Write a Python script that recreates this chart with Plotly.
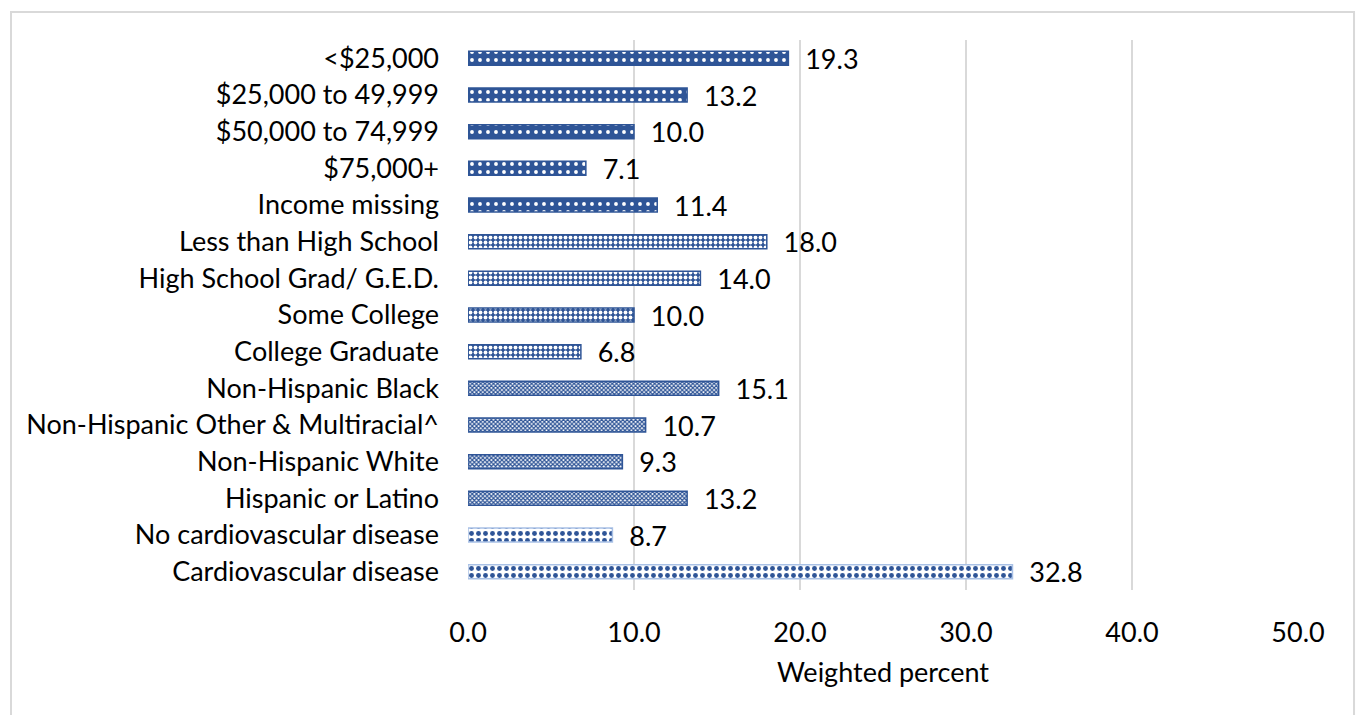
import plotly.graph_objects as go

categories = [
    "<$25,000", "$25,000 to 49,999", "$50,000 to 74,999", "$75,000+", "Income missing",
    "Less than High School", "High School Grad/ G.E.D.", "Some College", "College Graduate",
    "Non-Hispanic Black", "Non-Hispanic Other & Multiracial^", "Non-Hispanic White",
    "Hispanic or Latino",
    "No cardiovascular disease", "Cardiovascular disease",
]
values = [19.3, 13.2, 10.0, 7.1, 11.4,
          18.0, 14.0, 10.0, 6.8,
          15.1, 10.7, 9.3, 13.2,
          8.7, 32.8]
groups = ["income"] * 5 + ["education"] * 4 + ["race"] * 4 + ["cvd"] * 2

BLUE = "#2f5597"
LIGHT = "#a9c1e6"
style = {
    "income":    dict(shape=".", fg="white", bg=BLUE, size=8, sol=0.18, line=BLUE),
    "education": dict(shape=".", fg="white", bg=BLUE, size=5, sol=0.45, line=BLUE),
    "race":      dict(shape="x", fg=BLUE, bg="white", size=3, sol=0.65, line=BLUE),
    "cvd":       dict(shape=".", fg=BLUE, bg="white", size=7, sol=0.38, line=LIGHT),
}

fig = go.Figure()
for g in ["income", "education", "race", "cvd"]:
    idx = [i for i, gg in enumerate(groups) if gg == g]
    s = style[g]
    fig.add_trace(go.Bar(
        x=[values[i] for i in idx], y=[categories[i] for i in idx], orientation="h",
        marker=dict(
            color=s["bg"],
            line=dict(color=s["line"], width=1.5),
            pattern=dict(shape=s["shape"], fgcolor=s["fg"], bgcolor=s["bg"],
                         size=s["size"], solidity=s["sol"], fillmode="replace"),
        ),
        text=[f"  {values[i]:.1f}" for i in idx], textposition="outside",
        constraintext="none", textfont=dict(size=27, color="black"),
        cliponaxis=False,
    ))

fig.update_layout(
    width=1358, height=715,
    margin=dict(l=468, r=60, t=40, b=125),
    paper_bgcolor="white", plot_bgcolor="white",
    font=dict(family="Lato, Carlito, sans-serif", size=27, color="black"),
    barmode="overlay", bargap=0.62, showlegend=False,
    xaxis=dict(range=[0, 50], dtick=10, tickformat=".1f", showgrid=True,
               gridcolor="#d9d9d9", gridwidth=2, zeroline=False,
               showline=False, ticks="", ticklabelstandoff=24,
               tickfont=dict(size=27),
               title=dict(text="Weighted percent", standoff=16, font=dict(size=27))),
    yaxis=dict(categoryorder="array", categoryarray=categories, autorange="reversed",
               showgrid=False, showline=False, ticks="", ticklabelstandoff=28,
               tickfont=dict(size=27)),
    shapes=[dict(type="rect", xref="paper", yref="paper",
                 x0=-0.5506, x1=1.0675, y0=-0.4, y1=1.0508,
                 line=dict(color="#d9d9d9", width=2), layer="below")],
)

fig.write_html("out.html")
